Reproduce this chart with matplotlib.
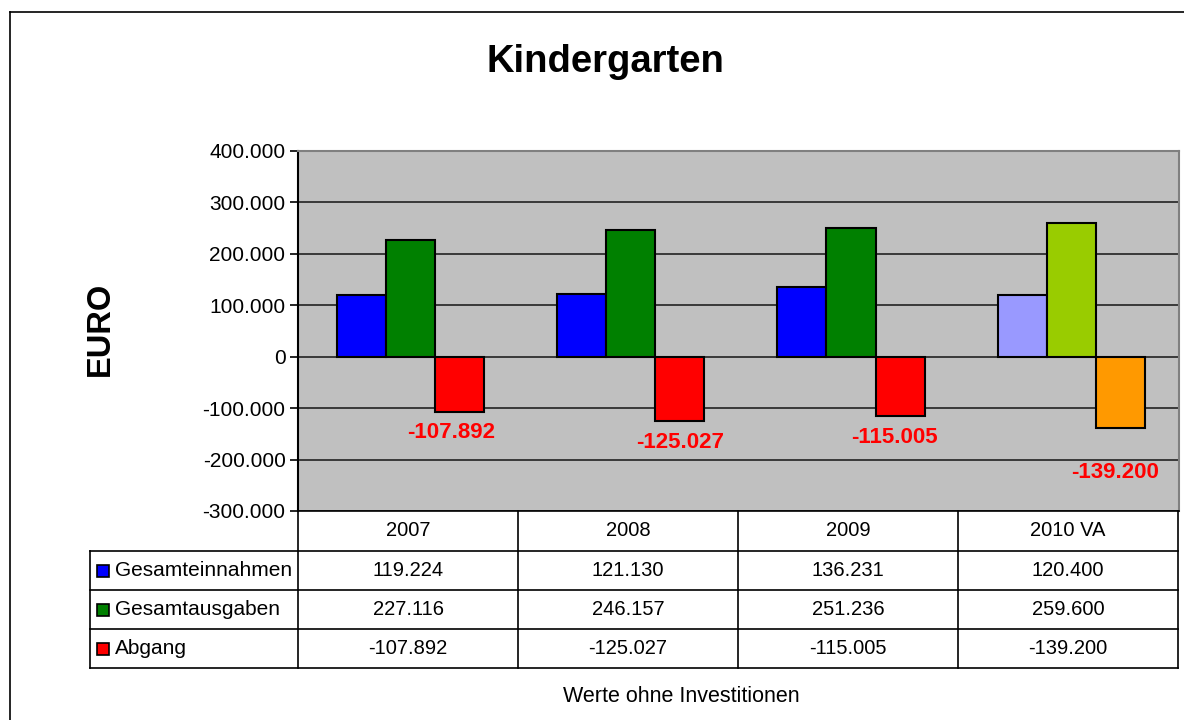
import numpy as np
import matplotlib
matplotlib.use("Agg")
import matplotlib.pyplot as plt
from matplotlib.lines import Line2D
from matplotlib.patches import Rectangle

# ---------- data ----------
years = ['2007', '2008', '2009', '2010 VA']
series = ['Gesamteinnahmen', 'Gesamtausgaben', 'Abgang']
einnahmen = [119224, 121130, 136231, 120400]
ausgaben = [227116, 246157, 251236, 259600]
abgang = [-107892, -125027, -115005, -139200]
yticks = [-300000, -200000, -100000, 0, 100000, 200000, 300000, 400000]

colors = ['#0000FF', '#008000', '#FF0000']
colors_last = ['#9999FF', '#99CC00', '#FF9900']


def de(v):
    # German thousands separator
    return f"{v:,}".replace(',', '.')


plt.rcParams['font.family'] = ['Liberation Sans', 'DejaVu Sans']

W, H = 1184, 720
fig = plt.figure(figsize=(W / 100, H / 100), dpi=100)


def fx(x):
    return x / W


def fy(y):
    return 1 - y / H


def hline(y, x0, x1, **kw):
    fig.add_artist(Line2D([fx(x0), fx(x1)], [fy(y), fy(y)], transform=fig.transFigure, **kw))


def vline(x, y0, y1, **kw):
    fig.add_artist(Line2D([fx(x), fx(x)], [fy(y0), fy(y1)], transform=fig.transFigure, **kw))


# outer frame (chart area)
hline(12, 10, W, color='black', lw=1.2)
vline(10, 12, H, color='black', lw=1.2)

# ---------- plot area ----------
left, right, top, bottom = 298, 1179, 151, 511
ax = fig.add_axes([fx(left), fy(bottom), fx(right - left), (bottom - top) / H])
ax.set_facecolor('#C0C0C0')

x = np.arange(len(years))
w = 0.223
shift = 0.011
vals = [einnahmen, ausgaben, abgang]
for i, v in enumerate(vals):
    cols = [colors[i]] * (len(years) - 1) + [colors_last[i]]
    ax.bar(x + (i - 1) * w + shift, v, width=w, color=cols,
           edgecolor='black', linewidth=1.5, zorder=3)

# data labels under the Abgang bars
label_offsets = [(-6, -7), (0, -8), (-4, -8), (-4, -24)]
for xi, v, off in zip(x, abgang, label_offsets):
    ax.annotate(de(v), (xi + w + shift, v), xytext=off, textcoords='offset points',
                ha='center', va='top', color='#FF0000', fontsize=16,
                fontweight='bold', zorder=4)

ax.set_xlim(-0.5, len(years) - 0.5)
ax.set_ylim(-300000, 400000)
ax.set_yticks(yticks)
ax.set_yticklabels([de(t) for t in yticks], fontsize=15)
ax.set_xticks([])
ax.yaxis.grid(True, color='#222222', linewidth=1.2, zorder=0)
ax.set_axisbelow(True)
ax.tick_params(axis='y', direction='out', length=6, width=1.2, pad=3)
ax.spines['left'].set_linewidth(1.5)
ax.spines['bottom'].set_linewidth(1.2)
ax.spines['top'].set_color('#808080')
ax.spines['top'].set_linewidth(1.5)
ax.spines['right'].set_color('#808080')
ax.spines['right'].set_linewidth(1.5)

# ---------- titles ----------
fig.text(fx(605), fy(62), 'Kindergarten', ha='center', va='center',
         fontsize=27.5, fontweight='bold')
fig.text(fx(100), fy(329), 'EURO', ha='center', va='center', rotation=90,
         fontsize=23.5, fontweight='bold')
fig.text(fx(681), fy(696), 'Werte ohne Investitionen', ha='center', va='center',
         fontsize=15.5)

# ---------- data table ----------
col_edges = [left, 518, 738, 958, 1178]
row_edges = [511, 551, 590, 629, 668]
tab_left = 90
lc = '#000000'
for cx in col_edges:
    vline(cx, row_edges[0], row_edges[-1], color=lc, lw=1.2)
vline(tab_left, row_edges[1], row_edges[-1], color=lc, lw=1.2)
for ry in row_edges[1:]:
    hline(ry, tab_left, col_edges[-1], color=lc, lw=1.2)

for j, yr in enumerate(years):
    cx = (col_edges[j] + col_edges[j + 1]) / 2
    fig.text(fx(cx), fy((row_edges[0] + row_edges[1]) / 2), yr,
             ha='center', va='center', fontsize=14.5)

for i, (name, v) in enumerate(zip(series, vals)):
    cy = (row_edges[i + 1] + row_edges[i + 2]) / 2
    fig.add_artist(Rectangle((fx(97), fy(cy + 6)), fx(12), 12 / H,
                             transform=fig.transFigure, facecolor=colors[i],
                             edgecolor='black', lw=1.2))
    fig.text(fx(115), fy(cy), name, ha='left', va='center', fontsize=15)
    for j in range(len(years)):
        cx = (col_edges[j] + col_edges[j + 1]) / 2
        fig.text(fx(cx), fy(cy), de(v[j]), ha='center', va='center', fontsize=14.5)

fig.savefig('out.png', dpi=100)
